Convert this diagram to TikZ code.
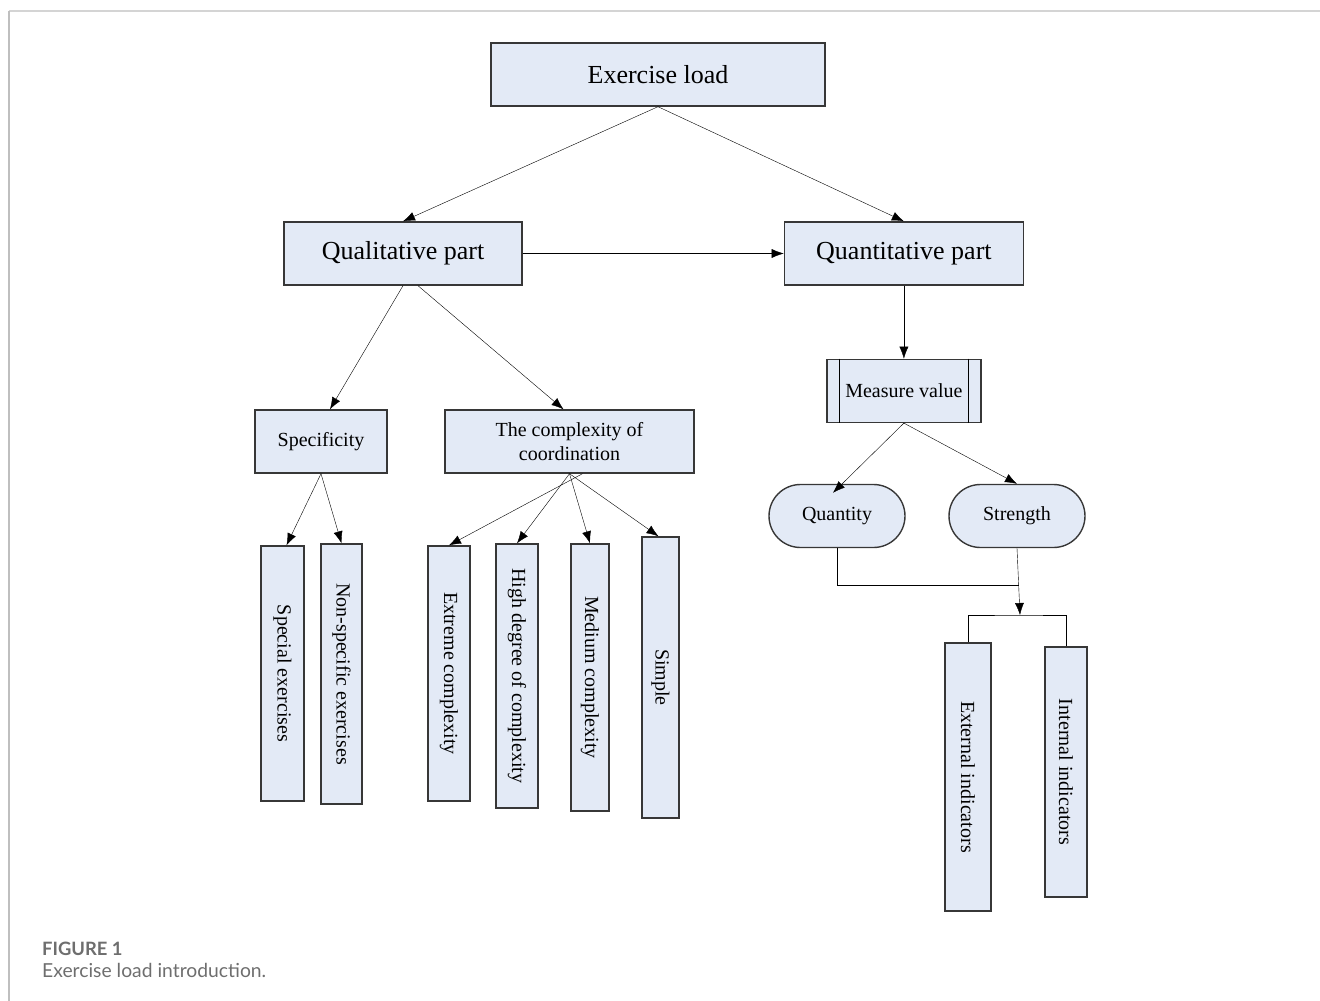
\documentclass[tikz,border=0pt]{standalone}
\usepackage{fontspec}
\setmainfont{Liberation Serif}
\newfontfamily\capfont{Lato}
\usetikzlibrary{arrows.meta,positioning,shapes.misc}
\definecolor{boxfill}{RGB}{227,234,246}
\definecolor{boxline}{RGB}{55,55,55}
\definecolor{capgrey}{RGB}{110,110,110}
\definecolor{framegrey}{RGB}{212,212,212}
\tikzset{
    %Define standard arrow tip
    >={Latex[length=12pt,width=9pt]},
    line width=1.2pt,
    bigbox/.style={
      rectangle,
      draw=boxline, fill=boxfill, line width=1.4pt,
      inner sep=0pt,
      font=\fontsize{26}{30}\selectfont},
    smallbox/.style={
      rectangle,
      draw=boxline, fill=boxfill, line width=1.4pt,
      inner sep=0pt, align=center,
      font=\fontsize{20}{24}\selectfont},
    pill/.style={
      rounded rectangle,
      draw=boxline, fill=boxfill, line width=1.4pt,
      inner sep=0pt,
      font=\fontsize{20}{24}\selectfont},
    tallbox/.style={
      smallbox,
      rotate=-90},
}
\begin{document}
\begin{tikzpicture}[x=1pt,y=-1pt]
    \useasboundingbox (0,0) rectangle (1320,1001);
    % frame
    \draw [framegrey, line width=2pt] (9,11) -- (1320,11);
    \draw [framegrey!90!black, line width=1.2pt] (9,11) -- (9,1001);

    % top levels
    \node (load) [bigbox, minimum width=334pt, minimum height=63pt] at (658,74.5)
          {Exercise load};
    \node (qual) [bigbox, minimum width=238pt, minimum height=63pt] at (403,253.5)
          {Qualitative part};
    \node (quant) [bigbox, minimum width=239pt, minimum height=63pt] [right=261pt of qual]
          {Quantitative part};
    \draw [->] (load.south) -- (qual.north);
    \draw [->] (load.south) -- (quant.north);
    \draw [->] (qual) -- (quant);

    % qualitative side
    \node (spec) [smallbox, minimum width=132pt, minimum height=63pt] at (321,441.5)
          {Specificity};
    \node (cmplx) [smallbox, minimum width=249pt, minimum height=63pt] at (569.5,441.5)
          {The complexity of\\coordination};
    \draw [->] (qual.south) -- ([xshift=9pt]spec.north);
    \draw [->] ([xshift=15pt]qual.south) -- ([xshift=-6pt]cmplx.north);

    \node (special) [tallbox, minimum width=255pt, minimum height=43pt] at (282.5,673.5)
          {Special exercises};
    \node (nonspec) [tallbox, minimum width=260pt, minimum height=41pt] at (341.5,674)
          {Non-specific exercises};
    \draw [->] (spec.south) -- ([xshift=4pt]special.west);
    \draw [->] (spec.south) -- (nonspec.west);

    \node (extreme) [tallbox, minimum width=255pt, minimum height=42pt] at (449,673.5)
          {Extreme complexity};
    \node (high) [tallbox, minimum width=264pt, minimum height=42pt] at (517,676)
          {High degree of complexity};
    \node (medium) [tallbox, minimum width=267pt, minimum height=38pt] at (590,677.5)
          {Medium complexity};
    \node (simple) [tallbox, minimum width=281pt, minimum height=37pt] at (660.5,677.5)
          {Simple};
    \draw [->] ([xshift=13pt]cmplx.south) -- (extreme.west);
    \draw [->] (cmplx.south) -- (high.west);
    \draw [->] (cmplx.south) -- (medium.west);
    \draw [->] (cmplx.south) -- ([xshift=-2pt]simple.west);

    % quantitative side
    \node (measure) [smallbox, minimum width=154pt, minimum height=63pt] [below=73pt of quant]
          {Measure value};
    \draw ([xshift=13pt]measure.north west) -- ([xshift=13pt]measure.south west);
    \draw ([xshift=-13pt]measure.north east) -- ([xshift=-13pt]measure.south east);
    \draw [->] (quant.south) -- (measure.north);

    \node (quantity) [pill, minimum width=136pt, minimum height=63pt] at (837,516)
          {Quantity};
    \node (strength) [pill, minimum width=136pt, minimum height=63pt] at (1017,516)
          {Strength};
    \draw [->] (measure.south) -- ([xshift=-4pt,yshift=-9pt]quantity.north);
    \draw [->] (measure.south) -- (strength.north);

    \node (external) [tallbox, minimum width=268pt, minimum height=46pt] at (968,777)
          {External indicators};
    \node (internal) [tallbox, minimum width=250pt, minimum height=42pt] at (1066,772)
          {Internal indicators};
    \coordinate (join) at (1019,585);
    \coordinate (fork) at (1020,615);
    \draw (quantity.south) |- (join);
    \draw [->] (strength.south) -- (fork);
    \draw (external.west) |- (fork) -| (internal.west);

    % caption
    \node (capnum) [anchor=base west, inner sep=0pt, text=capgrey,
          font=\capfont\bfseries\fontsize{18.4}{22}\selectfont] at (42,955)
          {FIGURE 1};
    \node (captext) [anchor=base west, inner sep=0pt, text=capgrey,
          font=\capfont\fontsize{19.3}{23}\selectfont] at (42,977)
          {Exercise load introduction.};
\end{tikzpicture}
\end{document}
